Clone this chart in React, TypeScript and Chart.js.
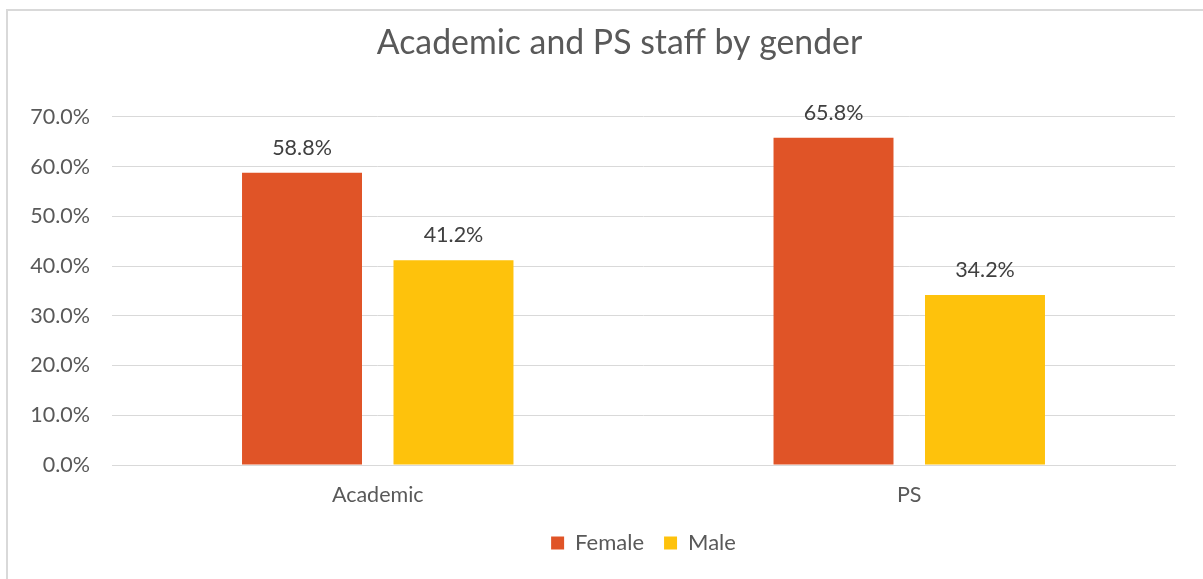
import React, { useEffect, useRef } from "react";
import { Chart, registerables } from "chart.js";

Chart.register(...registerables);

const categories = ["Academic", "PS"];
const femaleValues = [58.8, 65.8];
const maleValues = [41.2, 34.2];
const yTicks = [0, 10, 20, 30, 40, 50, 60, 70];
const chartTitle = "Academic and PS staff by gender";

const FONT = "Lato, 'Open Sans', sans-serif";

const valueLabels = {
  id: "valueLabels",
  afterDatasetsDraw(chart: any) {
    const ctx = chart.ctx;
    ctx.save();
    ctx.font = `21.5px ${FONT}`;
    ctx.fillStyle = "#404040";
    ctx.textAlign = "center";
    ctx.textBaseline = "middle";
    chart.data.datasets.forEach((ds: any, di: number) => {
      const meta = chart.getDatasetMeta(di);
      meta.data.forEach((el: any, i: number) => {
        ctx.fillText(Number(ds.data[i]).toFixed(1) + "%", el.x, el.y - 25);
      });
    });
    ctx.restore();
  },
};

export default function App() {
  const ref = useRef<HTMLCanvasElement>(null);
  useEffect(() => {
    document.body.style.margin = "0";
    document.body.style.overflow = "hidden";
    const chart = new Chart(ref.current!, {
      type: "bar",
      data: {
        labels: categories,
        datasets: [
          {
            label: "Female",
            data: femaleValues,
            backgroundColor: "#E05427",
            categoryPercentage: 0.57,
            barPercentage: 0.792,
          },
          {
            label: "Male",
            data: maleValues,
            backgroundColor: "#FEC20C",
            categoryPercentage: 0.57,
            barPercentage: 0.792,
          },
        ],
      },
      options: {
        responsive: false,
        animation: false,
        devicePixelRatio: 1,
        layout: { padding: { left: 28, right: 0, top: 0, bottom: 15 } },
        plugins: {
          title: {
            display: true,
            text: chartTitle,
            color: "#595959",
            font: { family: FONT, size: 33.8, weight: "normal" },
            padding: { top: 23, bottom: 53.4 },
          },
          legend: {
            position: "bottom",
            fullSize: false,
            maxHeight: 60,
            labels: {
              boxWidth: 13,
              boxHeight: 13,
              padding: 20,
              color: "#595959",
              font: { family: FONT, size: 22 },
            },
          },
          tooltip: { enabled: false },
        },
        scales: {
          x: {
            grid: { display: false, drawTicks: false },
            border: { color: "#d9d9d9", width: 1 },
            ticks: {
              color: "#595959",
              font: { family: FONT, size: 21.5 },
              padding: 17,
            },
            afterFit: (s: any) => {
              s.height = 47;
            },
          },
          y: {
            min: 0,
            max: 70,
            afterBuildTicks: (s: any) => {
              s.ticks = yTicks.map((v) => ({ value: v }));
            },
            grid: { color: "#d9d9d9", drawTicks: false },
            border: { display: false },
            ticks: {
              color: "#595959",
              font: { family: FONT, size: 21.5 },
              padding: 22,
              callback: (v: any) => Number(v).toFixed(1) + "%",
            },
            afterFit: (s: any) => {
              s.width = 84;
            },
          },
          spacer: {
            type: "linear",
            position: "right",
            grid: { display: false, drawTicks: false },
            border: { display: false },
            ticks: { display: false },
            afterFit: (s: any) => {
              s.width = 36;
            },
          },
        },
      },
      plugins: [valueLabels],
    });
    return () => chart.destroy();
  }, []);
  return (
    <div style={{ position: "fixed", left: 0, top: 0, width: 1203, height: 579, overflow: "hidden", background: "#fff" }}>
      <div
        style={{
          position: "absolute",
          left: 6,
          top: 9,
          width: 1300,
          height: 700,
          borderLeft: "2px solid #d9d9d9",
          borderTop: "2px solid #d9d9d9",
        }}
      />
      <canvas ref={ref} width={1211} height={579} style={{ position: "absolute", left: 0, top: 0 }} />
    </div>
  );
}
